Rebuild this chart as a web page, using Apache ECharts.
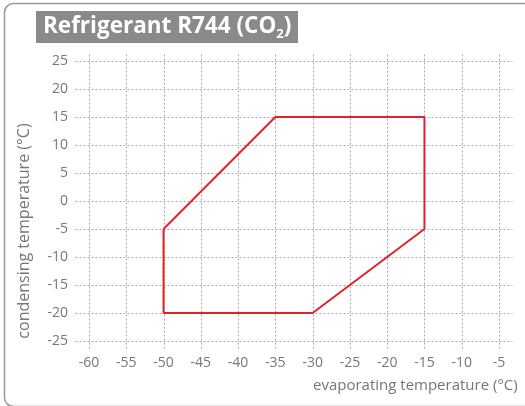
<!DOCTYPE html>
<html>
<head>
<meta charset="utf-8">
<script src="https://cdn.jsdelivr.net/npm/echarts@6/dist/echarts.min.js"></script>
<style>html,body{margin:0;padding:0;background:#fff}#c{width:525px;height:406px}</style>
</head>
<body>
<div id="c"></div>
<script>
// Data
var titleMain = 'Refrigerant R744 (CO';
var titleSub = '2';
var titleEnd = ')';
var xName = 'evaporating temperature (°C)';
var yName = 'condensing temperature (°C)';
var xTicks = [-60, -55, -50, -45, -40, -35, -30, -25, -20, -15, -10, -5];
var yTicks = [-25, -20, -15, -10, -5, 0, 5, 10, 15, 20, 25];
var envelopeEvap = [-50, -35, -15, -15, -30, -50, -50];
var envelopeCond = [-5, 15, 15, -5, -20, -20, -5];

var xMin = -60, xMax = -5, yMin = -25, yMax = 25, step = 5;
// how far dashed grid lines overshoot the plot (in data units)
var xExtLo = -61.9, xExtHi = -3.26, yExtLo = -26.3, yExtHi = 26.4;

var gridData = [];
xTicks.forEach(function (v) { gridData.push(['v', v]); });
yTicks.forEach(function (v) { gridData.push(['h', v]); });

var chart = echarts.init(document.getElementById('c'), null, {renderer: 'canvas'});
var labelColor = '#767676';
var font = '"Open Sans", sans-serif';

chart.setOption({
  animation: false,
  backgroundColor: '#fff',
  grid: {left: 89, right: 26, top: 61, bottom: 65, containLabel: false},
  xAxis: {
    type: 'value', min: xMin, max: xMax, interval: step,
    axisLine: {show: false}, axisTick: {show: false}, splitLine: {show: false},
    axisLabel: {color: labelColor, fontFamily: font, fontSize: 14, margin: 15}
  },
  yAxis: {
    type: 'value', min: yMin, max: yMax, interval: step,
    axisLine: {show: false}, axisTick: {show: false}, splitLine: {show: false},
    axisLabel: {color: labelColor, fontFamily: font, fontSize: 14, margin: 21}
  },
  graphic: [
    {type: 'rect', shape: {x: 4.5, y: 3.5, width: 600, height: 403, r: 9},
     style: {fill: null, stroke: '#9a9a9a', lineWidth: 1.5}, z: 0},
    {type: 'rect', shape: {x: 36, y: 11, width: 262, height: 32},
     style: {fill: '#8a8a8a'}, z: 1},
    {type: 'text', x: 43, y: 27, z: 2,
     style: {
       text: '{a|' + titleMain + '}{s|' + titleSub + '}{a|' + titleEnd + '}',
       verticalAlign: 'middle',
       rich: {
         a: {fill: '#fff', fontFamily: font, fontWeight: 'bold', fontSize: 22.5, verticalAlign: 'middle'},
         s: {fill: '#fff', fontFamily: font, fontWeight: 'bold', fontSize: 13, padding: [15, 0, 0, 0], verticalAlign: 'middle'}
       }
     }},
    {type: 'text', left: 313, top: 378, z: 2,
     style: {text: xName, fill: labelColor, fontFamily: font, fontSize: 15}},
    {type: 'text', x: 24, y: 231, rotation: Math.PI / 2, z: 2,
     style: {text: yName, fill: labelColor, fontFamily: font, fontSize: 16, align: 'center', verticalAlign: 'middle'}}
  ],
  series: [
    {
      type: 'custom',
      data: gridData,
      clip: false,
      silent: true,
      z: 1,
      renderItem: function (params, api) {
        var kind = gridData[params.dataIndex][0];
        var v = gridData[params.dataIndex][1];
        var p1, p2;
        if (kind === 'v') { p1 = api.coord([v, yExtLo]); p2 = api.coord([v, yExtHi]); }
        else { p1 = api.coord([xExtLo, v]); p2 = api.coord([xExtHi, v]); }
        return {
          type: 'line',
          shape: {x1: Math.round(p1[0]) + 0.5, y1: Math.round(p1[1]) + 0.5, x2: Math.round(p2[0]) + 0.5, y2: Math.round(p2[1]) + 0.5},
          style: {stroke: '#a8a8a8', lineWidth: 1, lineDash: [2, 2]}
        };
      }
    },
    {
      type: 'line',
      data: envelopeEvap.map(function (x, i) { return [x, envelopeCond[i]]; }),
      symbol: 'none',
      clip: false,
      z: 3,
      lineStyle: {color: '#e3212b', width: 2}
    }
  ]
});
</script>
</body>
</html>
